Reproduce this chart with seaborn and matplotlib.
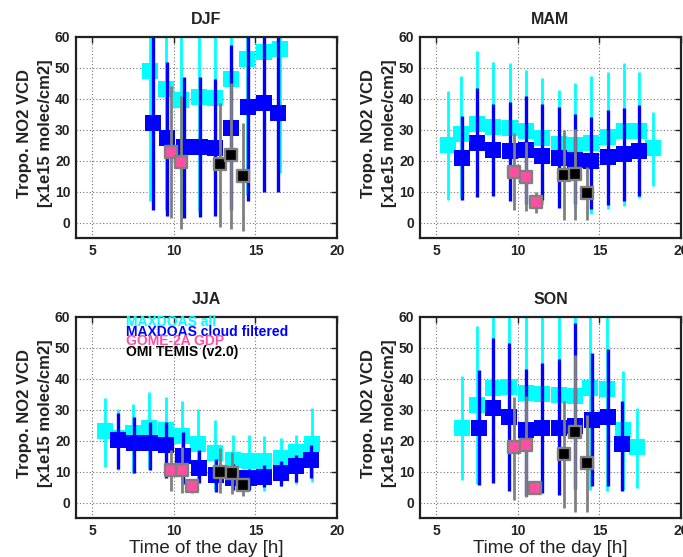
import numpy as np
import pandas as pd
import matplotlib
matplotlib.use("Agg")
import matplotlib.pyplot as plt
import seaborn as sns

# ---------------- data: hourly NO2 VCD means with spread (x1e15 molec/cm2) ----------------
# DJF
djf_all_t = [8.55, 9.5, 10.45, 11.55, 12.5, 13.5, 14.5, 15.55, 16.5]
djf_all_v = [49.0, 43.2, 39.7, 40.7, 40.2, 46.4, 52.8, 55.3, 56.0]
djf_all_hi = [75, 75, 75, 75, 75, 75, 75, 75, 75]
djf_all_lo = [7.0, 4.0, 3.5, 3.5, 4.0, 6.0, 9.0, 12.0, 16.0]
djf_cf_t = [8.75, 9.6, 10.6, 11.6, 12.5, 13.5, 14.55, 15.5, 16.4]
djf_cf_v = [32.3, 27.2, 24.5, 24.5, 24.2, 30.7, 37.4, 38.7, 35.3]
djf_cf_hi = [75, 52.0, 47.0, 47.0, 46.5, 57.5, 75, 75, 75]
djf_cf_lo = [3.9, 2.0, 1.4, 1.7, 2.1, 4.0, 7.0, 10.0, 10.0]
djf_gome_t = [9.8, 10.45]
djf_gome_v = [22.9, 19.5]
djf_gome_hi = [44.0, 40.9]
djf_gome_lo = [1.4, -2.2]
djf_omi_t = [12.8, 13.5, 14.25]
djf_omi_v = [18.9, 21.8, 15.0]
djf_omi_hi = [38.7, 45.0, 32.3]
djf_omi_lo = [-1.3, -2.2, -2.6]

# MAM
mam_all_t = [5.7, 6.5, 7.5, 8.5, 9.5, 10.5, 11.5, 12.5, 13.5, 14.5, 15.5, 16.5, 17.4, 18.3]
mam_all_v = [25.0, 28.5, 32.0, 31.0, 30.5, 29.5, 27.3, 25.5, 25.2, 25.7, 27.8, 29.5, 29.5, 24.1]
mam_all_hi = [42.6, 47.4, 55.6, 52.0, 51.5, 49.4, 46.7, 42.9, 45.0, 47.4, 48.8, 51.5, 48.8, 35.9]
mam_all_lo = [7.4, 8.0, 8.5, 9.0, 7.5, 6.5, 6.0, 5.0, 4.5, 2.9, 4.3, 5.3, 8.0, 11.7]
mam_cf_t = [6.6, 7.5, 8.5, 9.5, 10.5, 11.5, 12.5, 13.5, 14.5, 15.5, 16.5, 17.4]
mam_cf_v = [21.0, 25.7, 23.5, 23.0, 23.5, 21.5, 21.0, 20.3, 19.8, 21.2, 22.3, 23.0]
mam_cf_hi = [34.3, 43.4, 38.4, 39.1, 41.0, 38.4, 37.4, 35.0, 34.1, 36.5, 37.0, 38.0]
mam_cf_lo = [7.4, 8.1, 8.5, 6.9, 6.0, 7.3, 4.7, 6.0, 4.4, 5.7, 6.9, 8.5]
mam_gome_t = [9.75, 10.5, 11.1]
mam_gome_v = [16.4, 14.8, 6.6]
mam_gome_hi = [29.1, 26.2, 10.0]
mam_gome_lo = [4.1, 3.6, 3.0]
mam_omi_t = [12.8, 13.5, 14.25]
mam_omi_v = [15.5, 15.6, 9.6]
mam_omi_hi = [30.0, 30.2, 18.0]
mam_omi_lo = [0.9, 0.9, 0.9]

# JJA
jja_all_t = [5.8, 6.6, 7.5, 8.5, 9.5, 10.5, 11.5, 12.55, 13.6, 14.6, 15.5, 16.55, 17.5, 18.45]
jja_all_v = [23.0, 21.0, 22.5, 24.1, 23.5, 21.4, 19.0, 16.0, 13.8, 13.3, 13.3, 14.4, 16.5, 19.0]
jja_all_hi = [33.8, 30.2, 31.9, 35.6, 34.1, 32.7, 30.2, 26.8, 21.9, 22.0, 21.4, 20.9, 21.7, 30.5]
jja_all_lo = [11.5, 10.5, 9.5, 11.0, 9.0, 7.0, 6.5, 4.0, 4.0, 3.6, 3.6, 5.2, 6.0, 6.8]
jja_cf_t = [6.6, 7.55, 8.55, 9.5, 10.55, 11.55, 12.6, 13.6, 14.6, 15.55, 16.55, 17.5, 18.4]
jja_cf_v = [20.3, 19.2, 19.2, 18.7, 14.9, 11.1, 9.0, 7.9, 7.9, 8.4, 9.7, 11.9, 13.8]
jja_cf_hi = [28.9, 27.8, 26.2, 26.0, 22.7, 17.0, 14.0, 12.5, 11.0, 12.0, 13.3, 15.5, 18.5]
jja_cf_lo = [10.8, 9.5, 10.6, 7.9, 6.0, 6.3, 3.5, 4.0, 4.0, 5.0, 5.5, 6.5, 8.0]
jja_gome_t = [9.8, 10.5, 11.1]
jja_gome_v = [10.6, 10.6, 5.2]
jja_gome_hi = [17.0, 18.0, 7.5]
jja_gome_lo = [3.6, 3.1, 3.0]
jja_omi_t = [12.8, 13.55, 14.25]
jja_omi_v = [10.0, 9.7, 5.7]
jja_omi_hi = [17.6, 16.5, 8.0]
jja_omi_lo = [3.1, 2.6, 2.2]

# SON
son_all_t = [6.6, 7.5, 8.5, 9.45, 10.5, 11.5, 12.5, 13.5, 14.45, 15.45, 16.45, 17.3]
son_all_v = [24.1, 31.6, 37.0, 37.5, 35.5, 35.0, 34.8, 34.3, 37.0, 36.7, 23.3, 17.8]
son_all_hi = [40.8, 57.0, 75, 75, 75, 75, 75, 75, 75, 75, 42.4, 30.5]
son_all_lo = [7.3, 6.0, 6.5, 4.0, 2.5, 3.5, 3.0, 4.1, 4.1, 3.6, 4.0, 4.7]
son_cf_t = [7.6, 8.5, 9.45, 10.5, 11.5, 12.5, 13.5, 14.55, 15.5, 16.4]
son_cf_v = [24.1, 30.5, 27.8, 23.3, 24.1, 24.1, 24.6, 26.8, 27.6, 18.9]
son_cf_hi = [42.9, 53.2, 51.6, 43.2, 45.1, 46.4, 58.0, 48.3, 49.6, 32.7]
son_cf_lo = [5.7, 6.3, 3.6, 2.0, 3.0, 2.5, 4.5, 5.2, 5.2, 3.6]
son_gome_t = [9.75, 10.5, 11.05]
son_gome_v = [17.8, 18.7, 4.7]
son_gome_hi = [34.1, 34.5, 7.0]
son_gome_lo = [0.9, 1.9, 3.0]
son_omi_t = [12.8, 13.5, 14.25]
son_omi_v = [15.8, 22.7, 12.7]
son_omi_hi = [32.7, 47.8, 28.4]
son_omi_lo = [-1.8, -2.9, -2.9]

seasons = ["DJF", "MAM", "JJA", "SON"]
legend_labels = ["MAXDOAS all", "MAXDOAS cloud filtered", "GOME-2A GDP", "OMI TEMIS (v2.0)"]
x_ticks = [5, 10, 15, 20]
y_ticks = [0, 10, 20, 30, 40, 50, 60]

# ---------------- styling ----------------
CYAN = "#00FFFF"
BLUE = "#0000FF"
PINK = "#FF4FA3"
GREY = "#808080"
BLACK = "#000000"
INK = "#222222"

sns.set_theme(style="white")
plt.rcParams["font.family"] = ["Liberation Sans", "DejaVu Sans"]
plt.rcParams["font.weight"] = "bold"
plt.rcParams["axes.labelweight"] = "bold"
plt.rcParams["axes.titleweight"] = "bold"


def season_frames(prefix):
    g = globals()
    out = {}
    for key in ["all", "cf", "gome", "omi"]:
        out[key] = pd.DataFrame({
            "t": g[f"{prefix}_{key}_t"],
            "v": g[f"{prefix}_{key}_v"],
            "hi": g[f"{prefix}_{key}_hi"],
            "lo": g[f"{prefix}_{key}_lo"],
        })
    return out


def draw_series(ax, df, face, bar_color, bar_lw, size, edge, edge_lw, z):
    v = df["v"].to_numpy()
    yerr = [v - df["lo"].to_numpy(), df["hi"].to_numpy() - v]
    ax.errorbar(df["t"], v, yerr=yerr, fmt="none", ecolor=bar_color,
                elinewidth=bar_lw, capsize=0, zorder=z)
    sns.scatterplot(data=df, x="t", y="v", ax=ax, marker="s", s=size,
                    color=face, edgecolor=edge, linewidth=edge_lw,
                    legend=False, zorder=z + 0.1)


fig = plt.figure(figsize=(6.83, 5.57), dpi=100)
W, H = 683.0, 557.0
col_left = [76 / W, 420 / W]
row_bottom = [1 - 238 / H, 1 - 518 / H]
aw, ah = 261 / W, 201 / H

for i, season in enumerate(seasons):
    r, c = divmod(i, 2)
    ax = fig.add_axes([col_left[c], row_bottom[r], aw, ah])
    d = season_frames(season.lower())

    draw_series(ax, d["all"], CYAN, CYAN, 2.0, 125, CYAN, 0.0, 2.0)
    draw_series(ax, d["cf"], BLUE, BLUE, 2.4, 125, BLUE, 0.0, 2.2)
    draw_series(ax, d["gome"], PINK, GREY, 2.0, 72, GREY, 1.7, 2.4)
    draw_series(ax, d["omi"], BLACK, GREY, 2.0, 72, GREY, 1.7, 2.6)

    ax.set_xlim(4, 20)
    ax.set_ylim(-5, 60)
    ax.set_xticks(x_ticks)
    ax.set_yticks(y_ticks)
    ax.grid(True, linestyle=(0, (1, 2)), color="0.45", linewidth=0.8)
    ax.set_axisbelow(True)
    ax.tick_params(direction="in", top=True, right=True, length=4, width=1,
                   labelsize=10, pad=4, colors=INK)
    for lab in ax.get_xticklabels() + ax.get_yticklabels():
        lab.set_fontweight("bold")
        lab.set_color(INK)
    for sp in ax.spines.values():
        sp.set_linewidth(1.6)
        sp.set_color(INK)

    ax.set_title(season, fontsize=11.5, fontweight="bold", pad=9, color=INK)
    ax.set_ylabel("Tropo. NO2 VCD\n[x1e15 molec/cm2]", fontsize=12,
                  fontweight="bold", color=INK, linespacing=1.5)
    ax.yaxis.set_label_coords(-0.087, 0.52)
    if r == 1:
        ax.set_xlabel("Time of the day [h]", fontsize=13.5,
                      fontweight="normal", color=INK, labelpad=2)
    else:
        ax.set_xlabel("")

    if season == "JJA":
        colors = [CYAN, BLUE, PINK, BLACK]
        ys = [58.4, 55.3, 52.3, 48.6]
        for lab, col, yy in zip(legend_labels, colors, ys):
            ax.text(7.05, yy, lab, color=col, fontsize=10, fontweight="bold",
                    ha="left", va="center", zorder=5)

fig.savefig("out.png", dpi=100, facecolor="white")
